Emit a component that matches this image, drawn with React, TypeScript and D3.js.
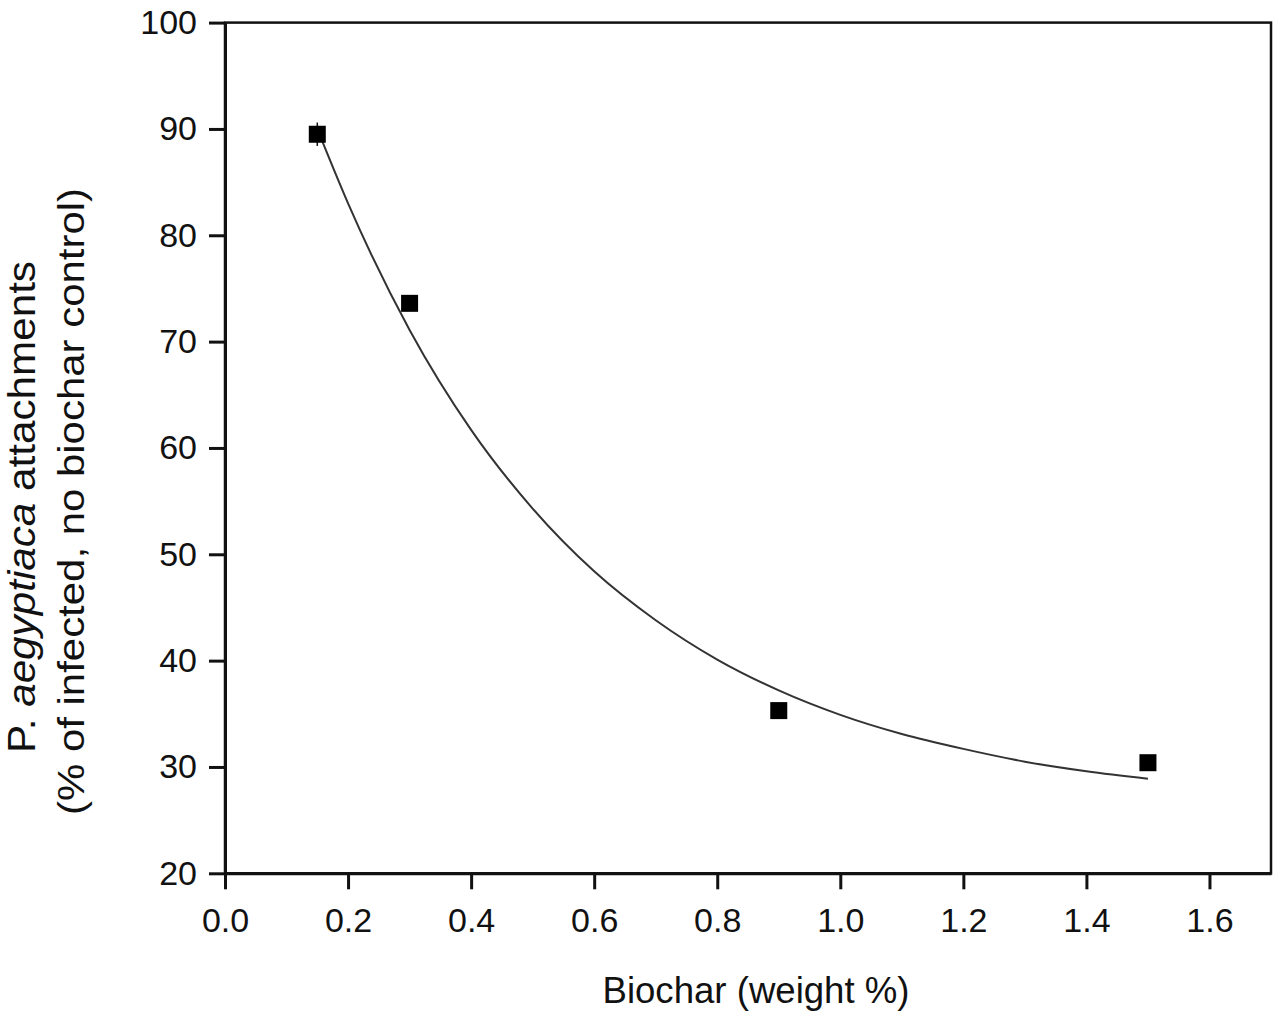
import * as d3 from 'd3';
import React, { useEffect, useRef } from 'react';

// measured points (biochar weight % vs attachments, % of control)
const biochar = [0.15, 0.3, 0.9, 1.5];
const attachments = [89.5, 73.6, 35.3, 30.4];
const errors = [1.1, 0.5, 0.5, 0.5];

// fitted decay curve
const fitX = [0.15, 0.2, 0.3, 0.4, 0.5, 0.6, 0.7, 0.8, 0.9, 1.0, 1.1, 1.2, 1.3, 1.4, 1.5];
const fitY = [90.0, 83.0, 71.1, 61.7, 54.3, 48.4, 43.8, 40.1, 37.2, 34.9, 33.1, 31.7, 30.5, 29.6, 28.9];

const xTicks = [0, 0.2, 0.4, 0.6, 0.8, 1.0, 1.2, 1.4, 1.6];
const yTicks = [20, 30, 40, 50, 60, 70, 80, 90, 100];

const width = 1280;
const height = 1018;
const margin = { top: 22.6, right: 9, bottom: 144.7, left: 225 };
const font = 'Liberation Sans, Arial, sans-serif';

const App: React.FC = () => {
  const ref = useRef<SVGSVGElement>(null);
  useEffect(() => {
    const svg = d3.select(ref.current);
    svg.selectAll('*').remove();

    const x = d3.scaleLinear().domain([0, 1.7]).range([margin.left, width - margin.right]);
    const y = d3.scaleLinear().domain([20, 100]).range([height - margin.bottom, margin.top]);

    // frame
    svg
      .append('rect')
      .attr('x', margin.left)
      .attr('y', margin.top)
      .attr('width', width - margin.right - margin.left)
      .attr('height', height - margin.bottom - margin.top)
      .attr('fill', 'none')
      .attr('stroke', '#111')
      .attr('stroke-width', 2.5);

    const xAxis = svg
      .append('g')
      .attr('transform', `translate(0,${height - margin.bottom})`)
      .call(
        d3
          .axisBottom(x)
          .tickValues(xTicks)
          .tickFormat(d3.format('.1f'))
          .tickSize(16)
          .tickSizeOuter(0)
          .tickPadding(19)
      );
    xAxis.select('.domain').attr('stroke', '#111').attr('stroke-width', 3);
    xAxis.selectAll('.tick line').attr('stroke', '#111').attr('stroke-width', 3);
    xAxis
      .selectAll('.tick text')
      .attr('fill', '#111')
      .style('font-family', font)
      .style('font-size', '34px');

    const yAxis = svg
      .append('g')
      .attr('transform', `translate(${margin.left},0)`)
      .call(d3.axisLeft(y).tickValues(yTicks).tickSize(16).tickSizeOuter(0).tickPadding(12));
    yAxis.select('.domain').attr('stroke', '#111').attr('stroke-width', 3);
    yAxis.selectAll('.tick line').attr('stroke', '#111').attr('stroke-width', 3);
    yAxis
      .selectAll('.tick text')
      .attr('fill', '#111')
      .style('font-family', font)
      .style('font-size', '34px');

    // fit curve
    const pts = fitX.map((v, i) => [v, fitY[i]] as [number, number]);
    const line = d3
      .line<[number, number]>()
      .x((d) => x(d[0]))
      .y((d) => y(d[1]))
      .curve(d3.curveMonotoneX);
    svg
      .append('path')
      .datum(pts)
      .attr('fill', 'none')
      .attr('stroke', '#333')
      .attr('stroke-width', 2)
      .attr('d', line);

    // error bars + squares
    const data = biochar.map((v, i) => ({ x: v, y: attachments[i], e: errors[i] }));
    svg
      .append('g')
      .selectAll('line')
      .data(data)
      .join('line')
      .attr('x1', (d) => x(d.x))
      .attr('x2', (d) => x(d.x))
      .attr('y1', (d) => y(d.y - d.e))
      .attr('y2', (d) => y(d.y + d.e))
      .attr('stroke', '#111')
      .attr('stroke-width', 1.5);
    const s = 17;
    svg
      .append('g')
      .selectAll('rect')
      .data(data)
      .join('rect')
      .attr('x', (d) => x(d.x) - s / 2)
      .attr('y', (d) => y(d.y) - s / 2)
      .attr('width', s)
      .attr('height', s)
      .attr('fill', '#000');

    // axis titles
    svg
      .append('text')
      .attr('x', 756)
      .attr('y', 1003)
      .attr('text-anchor', 'middle')
      .attr('textLength', 307)
      .attr('lengthAdjust', 'spacingAndGlyphs')
      .style('font-family', font)
      .style('font-size', '36px')
      .attr('fill', '#111')
      .text('Biochar (weight %)');

    const t1 = svg
      .append('text')
      .attr('transform', 'translate(35,507) rotate(-90)')
      .attr('text-anchor', 'middle')
      .attr('textLength', 492)
      .attr('lengthAdjust', 'spacingAndGlyphs')
      .style('font-family', font)
      .style('font-size', '38px')
      .attr('fill', '#111');
    t1.append('tspan').text('P. ');
    t1.append('tspan').style('font-style', 'italic').text('aegyptiaca');
    t1.append('tspan').text(' attachments');

    svg
      .append('text')
      .attr('transform', 'translate(84,501.5) rotate(-90)')
      .attr('text-anchor', 'middle')
      .attr('textLength', 627)
      .attr('lengthAdjust', 'spacingAndGlyphs')
      .style('font-family', font)
      .style('font-size', '37px')
      .attr('fill', '#111')
      .text('(% of infected, no biochar control)');
  }, []);
  return (
    <div style={{ position: 'absolute', left: 0, top: 0, background: '#fff' }}>
      <svg ref={ref} width={width} height={height}></svg>
    </div>
  );
};

export default App;
